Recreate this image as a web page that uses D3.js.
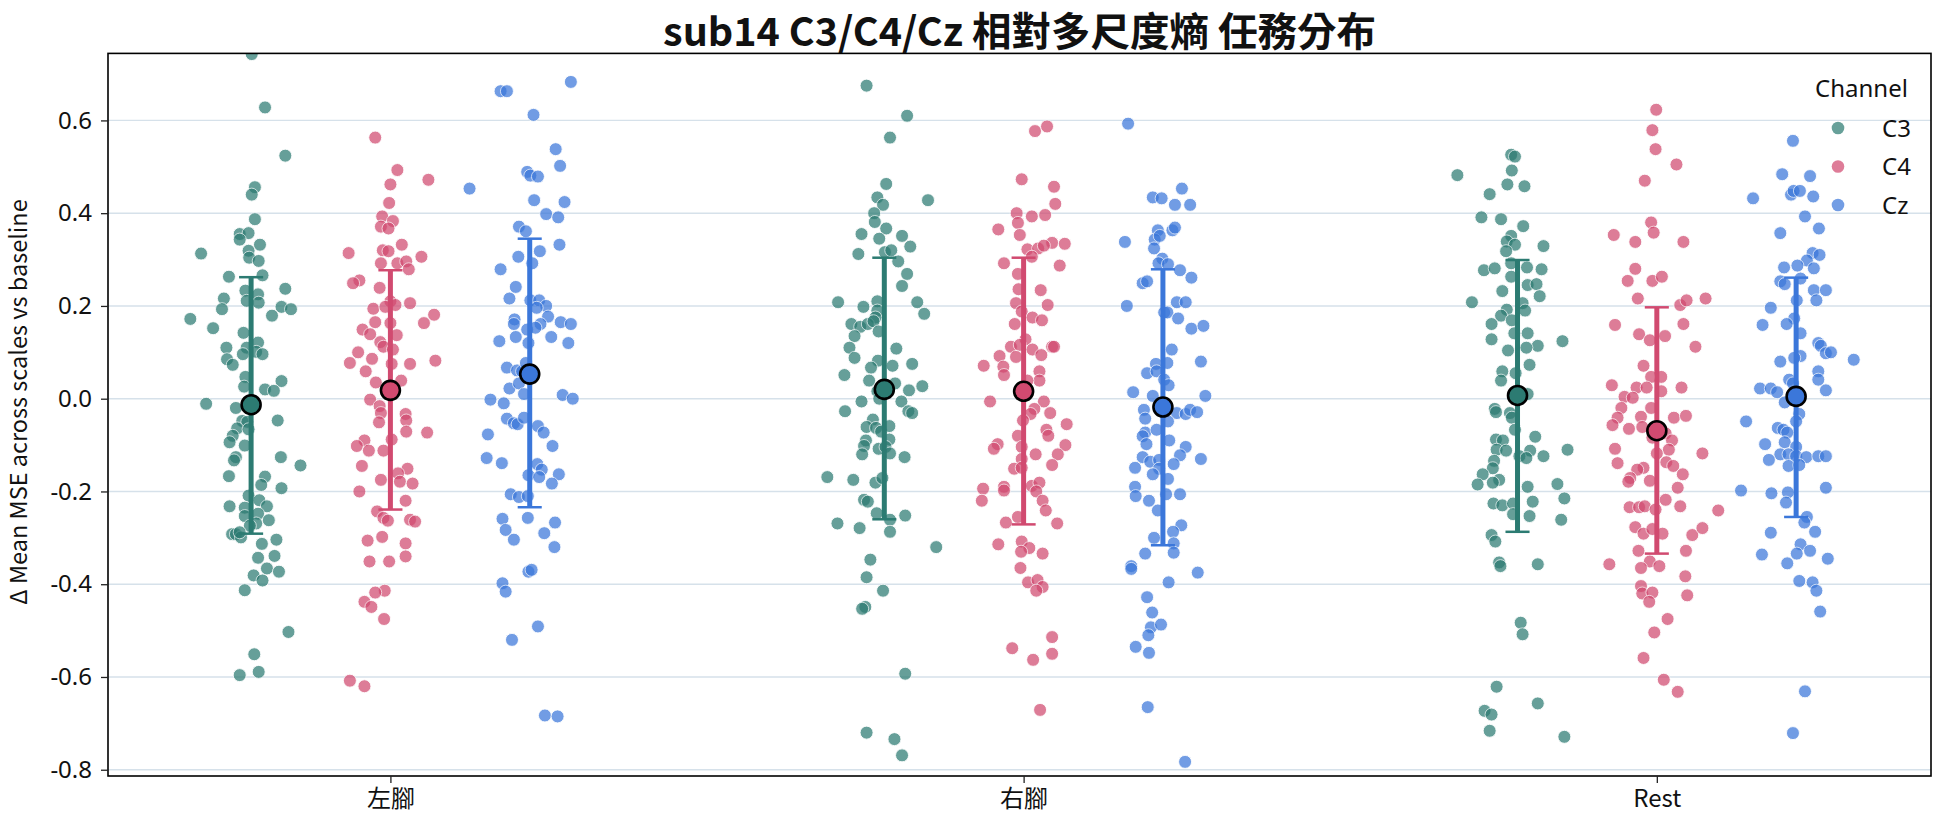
<!DOCTYPE html>
<html>
<head>
<meta charset="utf-8">
<script src="https://cdn.jsdelivr.net/npm/d3@7"></script>
<style>
  html, body { margin: 0; padding: 0; background: #ffffff; }
  svg { display: block; }
</style>
</head>
<body>
<svg id="chart" width="1944" height="827"></svg>
<script>
// ---------------- DATA ----------------
const title = "sub14 C3/C4/Cz 相對多尺度熵 任務分布";
const yLabel = "Δ Mean MSE across scales vs baseline";
const tasks = ["左腳", "右腳", "Rest"];
const channels = ["C3", "C4", "Cz"];
const yTicks = [-0.8, -0.6, -0.4, -0.2, 0.0, 0.2, 0.4, 0.6];
const yTickLabels = ["-0.8", "-0.6", "-0.4", "-0.2", "0.0", "0.2", "0.4", "0.6"];

// each point: [jitter (category units), value]
const leftC3 = [[0.001,0.743],[0.022,0.628],[0.054,0.524],[0.006,0.456],[0.001,0.44],[0.006,0.387],[-0.018,0.355],[-0.004,0.357],[-0.018,0.343],[0.014,0.332],[-0.079,0.313],[-0.004,0.319],[-0.003,0.304],[0.012,0.297],[-0.035,0.263],[0.018,0.266],[0.054,0.237],[-0.009,0.233],[0.011,0.225],[-0.043,0.216],[-0.007,0.211],[0.012,0.207],[-0.046,0.193],[0.048,0.198],[0.063,0.193],[0.033,0.179],[-0.096,0.172],[-0.06,0.152],[-0.012,0.142],[-0.039,0.11],[0.011,0.121],[-0.007,0.11],[-0.013,0.096],[0.008,0.101],[0.018,0.096],[-0.038,0.085],[-0.029,0.073],[-0.009,0.047],[0.048,0.038],[-0.011,0.026],[0.022,0.02],[0.036,0.017],[-0.071,-0.011],[-0.024,-0.02],[0.042,-0.047],[-0.014,-0.048],[-0.006,-0.05],[-0.022,-0.064],[-0.004,-0.066],[-0.029,-0.08],[-0.034,-0.094],[-0.01,-0.101],[0.047,-0.126],[-0.024,-0.126],[-0.027,-0.133],[0.078,-0.144],[-0.035,-0.167],[0.022,-0.168],[0.016,-0.186],[0.048,-0.193],[-0.004,-0.209],[0.013,-0.219],[-0.034,-0.232],[-0.01,-0.235],[0.025,-0.232],[0.011,-0.248],[-0.01,-0.253],[0.028,-0.262],[0.008,-0.269],[-0.002,-0.274],[-0.03,-0.292],[-0.024,-0.292],[-0.016,-0.299],[-0.018,-0.288],[0.04,-0.304],[0.017,-0.313],[0.037,-0.339],[0.011,-0.343],[0.025,-0.366],[0.044,-0.373],[0.004,-0.381],[0.018,-0.392],[-0.01,-0.413],[0.059,-0.503],[0.005,-0.551],[0.012,-0.589],[-0.018,-0.596]];
const leftC4 = [[-0.024,0.563],[0.011,0.493],[0.06,0.472],[0,0.462],[-0.002,0.422],[-0.013,0.393],[0.004,0.383],[-0.015,0.371],[-0.003,0.367],[-0.066,0.314],[0.018,0.332],[-0.012,0.32],[-0.003,0.318],[0.049,0.306],[-0.015,0.292],[0.011,0.292],[0.025,0.296],[0.029,0.279],[-0.049,0.255],[-0.059,0.249],[-0.017,0.239],[0,0.21],[0.008,0.202],[0.031,0.206],[-0.027,0.194],[-0.008,0.198],[0.069,0.181],[0.053,0.163],[-0.024,0.165],[0,0.163],[-0.044,0.149],[-0.032,0.139],[0.01,0.137],[-0.016,0.122],[-0.011,0.112],[-0.051,0.1],[0.004,0.106],[-0.064,0.077],[-0.029,0.086],[0.031,0.075],[0.071,0.082],[0.002,0.075],[-0.039,0.059],[0.017,0.039],[-0.023,0.035],[-0.032,-0.002],[-0.017,-0.016],[-0.015,-0.031],[0.024,-0.033],[0.025,-0.047],[-0.018,-0.051],[0.025,-0.071],[0.058,-0.073],[-0.041,-0.09],[-0.053,-0.102],[0.002,-0.088],[-0.034,-0.112],[-0.011,-0.112],[-0.045,-0.145],[0.027,-0.151],[0.012,-0.161],[-0.015,-0.175],[0.015,-0.179],[0.035,-0.183],[-0.049,-0.2],[0.024,-0.22],[-0.021,-0.243],[-0.011,-0.257],[-0.004,-0.263],[0.031,-0.261],[0.039,-0.265],[-0.013,-0.298],[-0.036,-0.306],[0.024,-0.312],[0.024,-0.34],[-0.033,-0.351],[-0.002,-0.351],[-0.009,-0.414],[-0.024,-0.418],[-0.041,-0.438],[-0.03,-0.449],[-0.01,-0.475],[-0.064,-0.608],[-0.041,-0.62]];
const leftCz = [[-0.046,0.663],[-0.036,0.663],[0.065,0.683],[0.006,0.612],[0.041,0.538],[0.048,0.502],[-0.004,0.489],[0.001,0.481],[0.013,0.479],[-0.095,0.453],[0.007,0.428],[0.055,0.424],[0.026,0.398],[0.045,0.391],[-0.017,0.371],[-0.006,0.361],[0.047,0.332],[0.016,0.318],[-0.018,0.306],[0.004,0.292],[-0.046,0.279],[-0.022,0.241],[-0.032,0.216],[0.001,0.212],[0.015,0.212],[0.026,0.2],[0.011,0.196],[0.029,0.177],[-0.024,0.171],[-0.025,0.161],[0.017,0.161],[0.049,0.165],[0.065,0.161],[-0.004,0.149],[0.009,0.153],[-0.022,0.133],[-0.048,0.124],[-0.002,0.12],[0.034,0.133],[0.061,0.12],[-0.036,0.067],[-0.02,0.061],[-0.012,0.059],[-0.006,0.077],[-0.032,0.022],[-0.017,0.033],[-0.009,0.01],[-0.062,-0.002],[-0.041,-0.01],[0.052,0.008],[0.068,0],[-0.036,-0.043],[-0.025,-0.053],[-0.019,-0.055],[-0.009,-0.041],[0.013,-0.059],[0.022,-0.073],[0.036,-0.102],[-0.066,-0.077],[-0.068,-0.128],[-0.044,-0.139],[0.012,-0.141],[0.019,-0.153],[-0.002,-0.165],[0.015,-0.169],[0.046,-0.163],[0.035,-0.183],[-0.03,-0.206],[-0.017,-0.212],[-0.003,-0.21],[-0.043,-0.259],[-0.003,-0.257],[0.04,-0.267],[-0.038,-0.283],[0.023,-0.29],[-0.025,-0.304],[0.039,-0.32],[-0.002,-0.373],[0.003,-0.369],[-0.043,-0.398],[-0.038,-0.416],[0.013,-0.491],[-0.028,-0.52],[0.024,-0.683],[0.044,-0.685]];
const rightC3 = [[-0.028,0.675],[0.036,0.61],[0.009,0.563],[0.003,0.463],[0.069,0.428],[-0.011,0.434],[-0.002,0.418],[-0.016,0.4],[-0.015,0.381],[-0.036,0.355],[0.003,0.367],[0.028,0.351],[-0.008,0.345],[0.041,0.328],[-0.041,0.312],[0.001,0.316],[0.011,0.32],[0.022,0.296],[0.036,0.269],[0.028,0.243],[-0.073,0.208],[-0.011,0.21],[0.052,0.208],[-0.033,0.198],[-0.011,0.19],[0.063,0.183],[-0.014,0.175],[-0.052,0.161],[-0.038,0.155],[-0.026,0.161],[-0.017,0.167],[-0.009,0.145],[-0.047,0.135],[-0.055,0.11],[0.019,0.108],[-0.047,0.088],[-0.01,0.082],[0.013,0.071],[0.044,0.075],[-0.021,0.067],[-0.063,0.051],[-0.024,0.039],[0.017,0.033],[0.06,0.027],[0.039,0.018],[-0.011,0.016],[-0.036,-0.006],[-0.008,0],[0.027,-0.006],[-0.062,-0.027],[0.038,-0.027],[0.044,-0.031],[-0.018,-0.045],[-0.028,-0.061],[-0.013,-0.063],[-0.005,-0.071],[0.008,-0.059],[-0.029,-0.09],[0.008,-0.088],[-0.032,-0.102],[-0.009,-0.108],[0.002,-0.104],[-0.035,-0.12],[0.009,-0.118],[0.032,-0.126],[-0.09,-0.169],[-0.049,-0.175],[-0.014,-0.181],[-0.003,-0.171],[-0.032,-0.218],[-0.026,-0.222],[-0.012,-0.247],[0.009,-0.261],[0.033,-0.252],[-0.074,-0.269],[-0.039,-0.279],[0.009,-0.287],[0.082,-0.32],[-0.022,-0.347],[-0.028,-0.385],[-0.002,-0.414],[-0.03,-0.449],[-0.035,-0.453],[0.033,-0.593],[-0.028,-0.72],[0.016,-0.734],[0.028,-0.769]];
const rightC4 = [[0.018,0.577],[0.037,0.587],[-0.003,0.473],[0.048,0.457],[0.05,0.42],[-0.011,0.4],[0.013,0.393],[0.034,0.396],[-0.009,0.379],[-0.04,0.365],[-0.006,0.353],[0.006,0.322],[0.023,0.324],[0.045,0.336],[0.065,0.334],[0.032,0.33],[0.013,0.306],[-0.031,0.292],[0.057,0.287],[-0.009,0.269],[0.027,0.234],[-0.008,0.236],[0.038,0.202],[-0.012,0.206],[-0.003,0.188],[0.014,0.175],[0.029,0.169],[-0.014,0.161],[0.003,0.128],[-0.02,0.112],[-0.006,0.116],[0.014,0.106],[0.028,0.094],[0.045,0.112],[0.048,0.112],[-0.038,0.092],[-0.012,0.09],[-0.063,0.071],[-0.032,0.069],[-0.031,0.051],[0.025,0.059],[0.025,0.039],[0.006,0.039],[-0.053,-0.006],[0.032,-0.006],[0.017,-0.022],[0.011,-0.033],[0.042,-0.031],[-0.001,-0.047],[0.068,-0.055],[0.036,-0.067],[0.039,-0.08],[-0.009,-0.08],[-0.041,-0.098],[-0.047,-0.108],[-0.003,-0.104],[0.066,-0.1],[0.019,-0.12],[0.054,-0.12],[-0.003,-0.13],[0.045,-0.143],[-0.015,-0.151],[-0.003,-0.149],[-0.031,-0.19],[-0.064,-0.194],[0.013,-0.188],[0.025,-0.181],[0.02,-0.2],[-0.031,-0.198],[-0.066,-0.22],[0.03,-0.22],[0.035,-0.241],[-0.028,-0.267],[-0.009,-0.255],[0.053,-0.269],[-0.04,-0.314],[-0.003,-0.308],[0.009,-0.322],[-0.004,-0.33],[0.03,-0.334],[-0.005,-0.365],[0.007,-0.396],[0.022,-0.391],[0.03,-0.406],[0.02,-0.414],[0.045,-0.514],[-0.018,-0.538],[0.045,-0.55],[0.015,-0.563],[0.026,-0.671]];
const rightCz = [[-0.055,0.593],[-0.016,0.434],[-0.002,0.432],[0.03,0.453],[0.019,0.418],[0.043,0.418],[-0.008,0.363],[0.015,0.363],[0.019,0.369],[-0.06,0.338],[-0.013,0.343],[-0.005,0.351],[-0.014,0.324],[-0.001,0.302],[-0.007,0.292],[0.008,0.29],[0.027,0.277],[0.045,0.261],[-0.032,0.249],[-0.025,0.253],[-0.057,0.2],[0.022,0.208],[0.036,0.208],[0.002,0.186],[0.007,0.186],[0.024,0.173],[0.045,0.151],[0.064,0.157],[0.014,0.106],[0.06,0.08],[-0.011,0.075],[0.007,0.077],[-0.025,0.055],[-0.01,0.059],[0.002,0.041],[0.009,0.029],[-0.047,0.014],[-0.016,0.006],[0.067,0.006],[-0.03,-0.024],[-0.028,-0.043],[0.022,-0.031],[0.036,-0.033],[0.043,-0.024],[0.054,-0.029],[0.008,-0.049],[-0.028,-0.073],[-0.01,-0.067],[-0.032,-0.081],[0.01,-0.09],[-0.026,-0.098],[0.036,-0.104],[0.027,-0.122],[0.06,-0.13],[-0.032,-0.126],[-0.02,-0.136],[-0.006,-0.132],[0.017,-0.141],[-0.044,-0.149],[-0.006,-0.151],[-0.016,-0.163],[0.008,-0.173],[-0.044,-0.19],[-0.043,-0.21],[0.005,-0.206],[0.027,-0.206],[-0.022,-0.22],[-0.008,-0.241],[0.029,-0.273],[0.016,-0.287],[-0.014,-0.3],[0.017,-0.312],[0.017,-0.332],[-0.028,-0.334],[-0.05,-0.361],[-0.05,-0.367],[0.055,-0.375],[0.009,-0.396],[-0.025,-0.428],[-0.017,-0.461],[-0.019,-0.493],[-0.003,-0.487],[-0.023,-0.51],[-0.043,-0.535],[-0.022,-0.548],[-0.024,-0.665],[0.035,-0.783]];
const restC3 = [[-0.01,0.526],[-0.004,0.522],[-0.095,0.482],[-0.009,0.492],[-0.016,0.462],[0.011,0.458],[-0.044,0.441],[-0.057,0.391],[-0.026,0.387],[0.009,0.372],[-0.01,0.351],[-0.017,0.339],[-0.004,0.332],[0.041,0.329],[-0.018,0.318],[-0.01,0.292],[-0.053,0.277],[-0.036,0.281],[0.015,0.283],[0.038,0.279],[-0.01,0.263],[0.016,0.245],[0.03,0.247],[-0.024,0.232],[0.035,0.221],[-0.072,0.208],[0.008,0.206],[-0.017,0.192],[0.012,0.19],[-0.026,0.179],[-0.009,0.169],[-0.041,0.161],[-0.005,0.141],[0.016,0.141],[-0.041,0.128],[0.071,0.124],[0.032,0.114],[0.014,0.11],[-0.015,0.104],[0.019,0.073],[-0.024,0.059],[-0.003,0.055],[-0.026,0.039],[0.016,0.01],[-0.036,-0.022],[-0.034,-0.029],[-0.012,-0.031],[-0.009,-0.041],[-0.004,-0.067],[-0.034,-0.088],[-0.023,-0.09],[0.028,-0.082],[-0.033,-0.11],[-0.018,-0.112],[0.02,-0.112],[0.079,-0.11],[0.003,-0.124],[0.014,-0.128],[0.041,-0.124],[-0.037,-0.134],[-0.039,-0.15],[-0.055,-0.163],[-0.029,-0.175],[-0.063,-0.185],[-0.039,-0.181],[0.063,-0.184],[0.016,-0.19],[0.074,-0.215],[-0.038,-0.226],[-0.024,-0.23],[-0.007,-0.226],[0.024,-0.222],[-0.007,-0.249],[0.019,-0.253],[0.069,-0.261],[-0.041,-0.294],[-0.035,-0.308],[-0.029,-0.353],[-0.027,-0.361],[0.032,-0.357],[0.005,-0.483],[0.008,-0.508],[-0.033,-0.621],[0.032,-0.657],[-0.052,-0.673],[-0.041,-0.681],[-0.044,-0.716],[0.074,-0.729]];
const restC4 = [[-0.001,0.623],[-0.007,0.579],[-0.002,0.538],[0.031,0.505],[-0.019,0.47],[-0.009,0.38],[-0.005,0.358],[-0.068,0.353],[-0.034,0.338],[0.042,0.338],[-0.034,0.28],[-0.046,0.254],[-0.007,0.254],[0.008,0.263],[-0.03,0.216],[0.037,0.202],[0.047,0.212],[0.077,0.216],[-0.066,0.159],[0.042,0.161],[-0.028,0.139],[-0.011,0.126],[0.013,0.135],[0.061,0.112],[-0.021,0.071],[-0.009,0.047],[0.007,0.047],[-0.071,0.029],[-0.032,0.024],[-0.016,0.024],[0.007,0.016],[0.039,0.024],[-0.051,0.004],[-0.038,0.002],[-0.056,-0.02],[-0.009,-0.02],[-0.062,-0.041],[-0.025,-0.039],[0.027,-0.041],[0.046,-0.037],[-0.07,-0.057],[-0.044,-0.065],[-0.023,-0.061],[-0.007,-0.084],[0.014,-0.075],[0.024,-0.09],[-0.066,-0.108],[0.019,-0.11],[0,-0.118],[0.072,-0.118],[-0.062,-0.139],[0.015,-0.137],[0.026,-0.145],[-0.021,-0.149],[-0.031,-0.153],[0.041,-0.163],[-0.042,-0.171],[-0.045,-0.179],[-0.011,-0.177],[0.033,-0.192],[0.014,-0.218],[-0.043,-0.234],[-0.028,-0.234],[-0.019,-0.232],[-0.002,-0.239],[0.037,-0.232],[0.097,-0.241],[-0.034,-0.277],[-0.021,-0.291],[-0.007,-0.281],[0.009,-0.291],[0.056,-0.294],[0.072,-0.279],[-0.029,-0.328],[-0.011,-0.351],[0.004,-0.361],[0.046,-0.328],[-0.075,-0.357],[-0.025,-0.365],[0.045,-0.383],[-0.025,-0.404],[-0.023,-0.42],[-0.007,-0.418],[-0.012,-0.438],[0.048,-0.424],[0.017,-0.475],[-0.004,-0.504],[-0.021,-0.559],[0.011,-0.606],[0.033,-0.632]];
const restCz = [[-0.005,0.556],[-0.022,0.484],[0.022,0.48],[-0.068,0.432],[-0.008,0.44],[-0.004,0.448],[0.006,0.448],[0.027,0.436],[0.014,0.393],[0.036,0.367],[-0.025,0.357],[0.026,0.314],[0.037,0.31],[0.017,0.298],[0.002,0.287],[-0.019,0.283],[0.028,0.281],[0.007,0.259],[-0.025,0.253],[-0.018,0.247],[0.028,0.234],[0.047,0.234],[0.001,0.212],[0.032,0.212],[-0.04,0.196],[-0.003,0.173],[-0.053,0.159],[-0.015,0.161],[0.007,0.141],[0.035,0.12],[0.039,0.114],[0.047,0.098],[0.055,0.1],[0.007,0.092],[0.091,0.084],[-0.025,0.08],[-0.003,0.088],[0.035,0.059],[0.035,0.041],[-0.011,0.041],[-0.005,0.033],[-0.057,0.022],[-0.04,0.022],[-0.03,0.014],[0.047,0.018],[-0.018,-0.008],[0.005,-0.033],[-0.079,-0.049],[0,-0.049],[-0.029,-0.063],[-0.02,-0.067],[-0.014,-0.073],[-0.049,-0.098],[-0.018,-0.094],[0,-0.104],[-0.025,-0.12],[-0.043,-0.132],[-0.012,-0.12],[0,-0.124],[0.016,-0.126],[0.035,-0.124],[0.047,-0.124],[-0.012,-0.145],[0.005,-0.143],[-0.087,-0.198],[-0.039,-0.204],[-0.013,-0.202],[0.047,-0.192],[-0.016,-0.224],[0.017,-0.255],[0.013,-0.267],[0.03,-0.287],[-0.04,-0.289],[0.007,-0.314],[-0.054,-0.336],[-0.014,-0.355],[0.001,-0.334],[0.022,-0.328],[0.05,-0.345],[0.005,-0.393],[0.026,-0.396],[0.032,-0.414],[0.038,-0.459],[0.014,-0.631],[-0.005,-0.721]];

// summary (mean with error bar limits) per task, one array per channel
const meanC3 = [-0.013, 0.020, 0.007];
const lowC3  = [-0.291, -0.260, -0.287];
const highC3 = [0.262, 0.304, 0.299];
const meanC4 = [0.018, 0.016, -0.069];
const lowC4  = [-0.239, -0.271, -0.334];
const highC4 = [0.277, 0.304, 0.197];
const meanCz = [0.053, -0.018, 0.005];
const lowCz  = [-0.234, -0.316, -0.255];
const highCz = [0.345, 0.279, 0.261];

// ---------------- STYLE / LAYOUT ----------------
const W = 1944, H = 827;
const M = { left: 108, right: 1931, top: 53.4, bottom: 776 };
const colorOf = { C3: "#2c7b72", C4: "#d14a70", Cz: "#3b77da" };
const hueOffset = { C3: -0.22, C4: 0, Cz: 0.22 };
const latinFont = "'Noto Sans', 'Open Sans', 'DejaVu Sans', sans-serif";
const cjkFont = "'Noto Sans CJK TC', 'Noto Sans', sans-serif";

const svg = d3.select("#chart");

const x = d3.scaleLinear().domain([-0.446, 2.433]).range([M.left, M.right]);
const y = d3.scaleLinear().domain([-0.8135, 0.7445]).range([M.bottom, M.top]);

// clip
svg.append("defs").append("clipPath").attr("id", "plotclip")
  .append("rect").attr("x", M.left).attr("y", M.top)
  .attr("width", M.right - M.left).attr("height", M.bottom - M.top);

// grid
svg.append("g").selectAll("line").data(yTicks).join("line")
  .attr("x1", M.left).attr("x2", M.right)
  .attr("y1", d => y(d)).attr("y2", d => y(d))
  .attr("stroke", "#d6e1ea").attr("stroke-width", 1.4);

// points
const series = [
  { task: 0, ch: "C3", pts: leftC3 }, { task: 0, ch: "C4", pts: leftC4 }, { task: 0, ch: "Cz", pts: leftCz },
  { task: 1, ch: "C3", pts: rightC3 }, { task: 1, ch: "C4", pts: rightC4 }, { task: 1, ch: "Cz", pts: rightCz },
  { task: 2, ch: "C3", pts: restC3 }, { task: 2, ch: "C4", pts: restC4 }, { task: 2, ch: "Cz", pts: restCz }
];
const gPts = svg.append("g").attr("clip-path", "url(#plotclip)");
series.forEach(s => {
  gPts.append("g").selectAll("circle").data(s.pts).join("circle")
    .attr("cx", d => x(s.task + hueOffset[s.ch] + d[0]))
    .attr("cy", d => y(d[1]))
    .attr("r", 6.5)
    .attr("fill", colorOf[s.ch])
    .attr("stroke", "#ffffff")
    .attr("stroke-width", 0.9)
    .attr("opacity", 0.72);
});

// error bars and means
const summaries = [
  { ch: "C3", mean: meanC3, low: lowC3, high: highC3 },
  { ch: "C4", mean: meanC4, low: lowC4, high: highC4 },
  { ch: "Cz", mean: meanCz, low: lowCz, high: highCz }
];
const capHalf = 0.019;
summaries.forEach(s => {
  const g = svg.append("g");
  tasks.forEach((t, i) => {
    const cx = i + hueOffset[s.ch];
    g.append("line")
      .attr("x1", x(cx)).attr("x2", x(cx))
      .attr("y1", y(s.low[i])).attr("y2", y(s.high[i]))
      .attr("stroke", colorOf[s.ch]).attr("stroke-width", 5);
    [s.low[i], s.high[i]].forEach(v => {
      g.append("line")
        .attr("x1", x(cx - capHalf)).attr("x2", x(cx + capHalf))
        .attr("y1", y(v)).attr("y2", y(v))
        .attr("stroke", colorOf[s.ch]).attr("stroke-width", 2.5);
    });
    g.append("circle")
      .attr("cx", x(cx)).attr("cy", y(s.mean[i])).attr("r", 9.5)
      .attr("fill", colorOf[s.ch]).attr("stroke", "#000").attr("stroke-width", 2.6);
  });
});

// frame
svg.append("rect").attr("x", M.left).attr("y", M.top)
  .attr("width", M.right - M.left).attr("height", M.bottom - M.top)
  .attr("fill", "none").attr("stroke", "#000").attr("stroke-width", 1.6);

// y axis
const yAxis = d3.axisLeft(y).tickValues(yTicks)
  .tickFormat((d, i) => yTickLabels[i]).tickSize(7).tickPadding(9).tickSizeOuter(0);
const gy = svg.append("g").attr("transform", `translate(${M.left},0)`).call(yAxis);
gy.select(".domain").remove();
gy.selectAll(".tick line").attr("stroke", "#222").attr("stroke-width", 1.3);
gy.selectAll(".tick text").attr("font-family", latinFont).attr("font-size", 24).attr("fill", "#111");

// x axis
const xAxis = d3.axisBottom(x).tickValues([0, 1, 2])
  .tickFormat((d, i) => tasks[i]).tickSize(7).tickPadding(7).tickSizeOuter(0);
const gx = svg.append("g").attr("transform", `translate(0,${M.bottom})`).call(xAxis);
gx.select(".domain").remove();
gx.selectAll(".tick line").attr("stroke", "#222").attr("stroke-width", 1.3);
gx.selectAll(".tick text").attr("font-family", cjkFont).attr("font-size", 24).attr("fill", "#111");

// title
svg.append("text").attr("x", (M.left + M.right) / 2).attr("y", 46)
  .attr("text-anchor", "middle").attr("font-family", cjkFont)
  .attr("font-size", 39.5).attr("font-weight", "bold").attr("fill", "#111")
  .text(title);

// y label
svg.append("text")
  .attr("transform", `translate(27,402) rotate(-90)`)
  .attr("text-anchor", "middle").attr("font-family", cjkFont)
  .attr("font-size", 23.5).attr("fill", "#111")
  .text(yLabel);

// legend
const lg = svg.append("g");
lg.append("text").attr("x", 1815).attr("y", 97).attr("text-anchor", "start")
  .attr("font-family", latinFont).attr("font-size", 24).attr("fill", "#111").text("Channel");
channels.forEach((c, i) => {
  const cy = 128 + i * 38.5;
  lg.append("circle").attr("cx", 1838).attr("cy", cy).attr("r", 6.3)
    .attr("fill", colorOf[c]).attr("opacity", 0.72);
  lg.append("text").attr("x", 1882).attr("y", cy + 8.5)
    .attr("font-family", latinFont).attr("font-size", 24).attr("fill", "#111").text(c);
});
</script>
</body>
</html>
